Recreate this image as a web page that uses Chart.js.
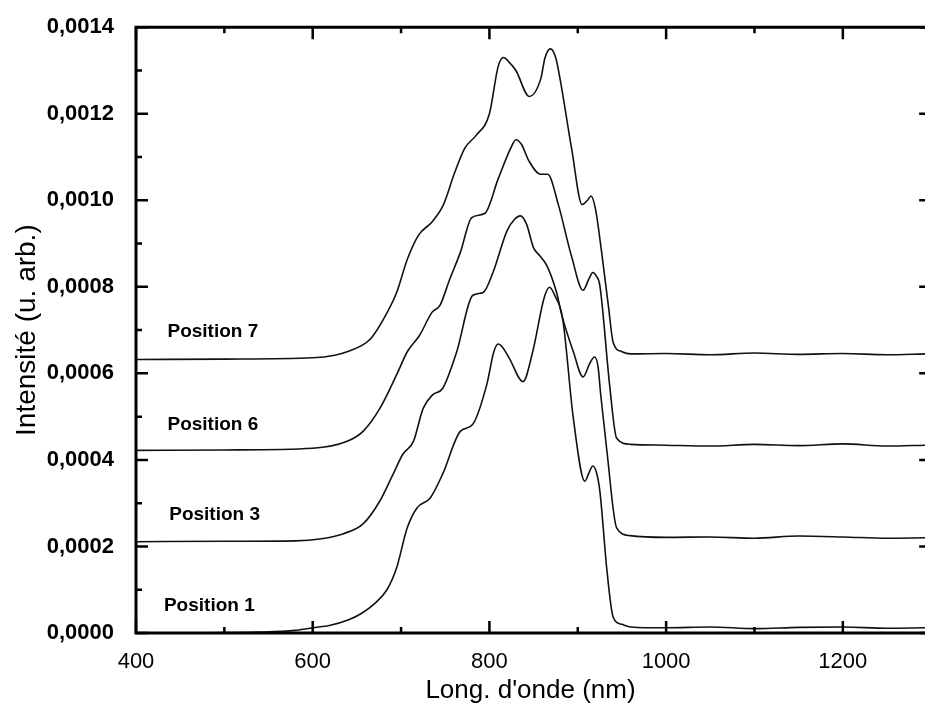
<!DOCTYPE html>
<html>
<head>
<meta charset="utf-8">
<script src="https://cdn.jsdelivr.net/npm/chart.js@4.4.1/dist/chart.umd.min.js"></script>
<style>
  html, body { margin: 0; padding: 0; background: #fff; }
  #wrap { width: 925px; height: 714px; }
</style>
</head>
<body>
<div id="wrap"><canvas id="specChart" width="925" height="714"></canvas></div>
<script>
// wavelength (nm) / intensity points
let p1X = [400, 450, 500, 540, 580, 600, 620, 640, 655, 670, 684, 695, 707, 718, 733, 747, 767, 781, 797, 805, 810, 815, 823, 838, 849, 862, 868, 874, 883, 895, 908, 913, 917, 921, 925, 933, 940, 950, 960, 1000, 1050, 1100, 1150, 1200, 1250, 1293]
let p1Y = [0, 0, 0.000001, 0.000002, 0.000006, 0.000012, 0.000018, 0.00003, 0.000045, 0.000068, 0.0001, 0.000151, 0.000243, 0.000289, 0.000312, 0.000367, 0.000466, 0.000482, 0.000574, 0.00065, 0.000668, 0.00066, 0.000633, 0.000581, 0.00065, 0.000775, 0.000799, 0.00078, 0.000725, 0.000496, 0.000351, 0.000372, 0.000386, 0.000372, 0.000328, 0.000145, 0.000037, 0.00002, 0.000014, 0.000012, 0.000014, 0.00001, 0.000013, 0.000014, 0.000011, 0.000012]

let p3X = [400, 500, 580, 610, 634, 657, 676, 691, 702, 714, 725, 736, 747, 763, 781, 793, 804, 820, 828, 835, 842, 850, 857, 865, 876, 882, 895, 906, 914, 919, 923, 926, 933, 944, 959, 1000, 1050, 1100, 1150, 1200, 1250, 1293]
let p3Y = [0.000211, 0.000212, 0.000213, 0.000218, 0.000229, 0.000252, 0.000305, 0.000367, 0.000413, 0.000443, 0.000519, 0.000551, 0.000565, 0.00065, 0.00078, 0.000787, 0.000833, 0.00093, 0.000955, 0.000964, 0.000945, 0.00089, 0.000872, 0.000849, 0.000787, 0.000734, 0.00065, 0.000592, 0.000625, 0.000638, 0.000615, 0.00055, 0.00042, 0.000243, 0.000225, 0.000221, 0.000222, 0.000219, 0.000224, 0.000222, 0.000219, 0.00022]

let p6X = [400, 500, 600, 639, 657, 676, 695, 707, 721, 735, 744, 755, 767, 780, 795, 810, 824, 830, 836, 845, 858, 866, 878, 893, 906, 913, 917, 921, 925, 936, 944, 960, 1000, 1050, 1100, 1150, 1200, 1250, 1293]
let p6Y = [0.000422, 0.000423, 0.000427, 0.000443, 0.000466, 0.000519, 0.000597, 0.00065, 0.000688, 0.000741, 0.000757, 0.000817, 0.000879, 0.00096, 0.00097, 0.00105, 0.00112, 0.00114, 0.00113, 0.00109, 0.00106, 0.00106, 0.00099, 0.00087, 0.000792, 0.00082, 0.000833, 0.000825, 0.000803, 0.000574, 0.00045, 0.000436, 0.000434, 0.000432, 0.000436, 0.000433, 0.000437, 0.000432, 0.000434]

let p7X = [400, 500, 600, 625, 639, 665, 680, 695, 707, 720, 735, 748, 760, 772, 785, 800, 810, 816, 822, 830, 845, 858, 863, 869, 875, 880, 893, 905, 911, 915, 920, 927, 935, 940, 950, 960, 1000, 1050, 1100, 1150, 1200, 1250, 1293]
let p7Y = [0.000632, 0.000633, 0.000636, 0.000642, 0.00065, 0.000679, 0.000725, 0.000787, 0.000863, 0.00092, 0.00095, 0.00099, 0.00106, 0.00112, 0.00115, 0.0012, 0.00131, 0.00133, 0.00132, 0.0013, 0.00124, 0.00128, 0.00133, 0.00135, 0.00133, 0.00128, 0.00112, 0.00099, 0.001, 0.00101, 0.00098, 0.00088, 0.00075, 0.000672, 0.00065, 0.000645, 0.000646, 0.000643, 0.000647, 0.000644, 0.000646, 0.000643, 0.000645]

let seriesNames = ['Position 1', 'Position 3', 'Position 6', 'Position 7']
let labelX = [483, 489, 487, 487]
let labelY = [0.000062, 0.000274, 0.000481, 0.000697]

let xMajor = [400, 600, 800, 1000, 1200]
let xMinor = [500, 700, 900, 1100, 1300]
let yMajor = [0, 0.0002, 0.0004, 0.0006, 0.0008, 0.001, 0.0012, 0.0014]
let yMinor = [0.0001, 0.0003, 0.0005, 0.0007, 0.0009, 0.0011, 0.0013]
let yTickLabels = ['0,0000', '0,0002', '0,0004', '0,0006', '0,0008', '0,0010', '0,0012', '0,0014']

let fontFam = '"Liberation Sans", Arial, sans-serif'

function toPoints(xs, ys) {
    return xs.map((v, i) => ({ x: v, y: ys[i] }))
}
function makeSet(name, xs, ys) {
    return {
        label: name,
        data: toPoints(xs, ys),
        borderColor: '#111',
        borderWidth: 1.6,
        pointRadius: 0,
        fill: false,
        cubicInterpolationMode: 'monotone',
        clip: 4
    }
}

// axis frame + inward ticks on all four sides
const frame = {
    id: 'frame',
    afterDatasetsDraw(chart) {
        const { ctx, chartArea: a, scales: { x, y } } = chart
        const rightX = x.getPixelForValue(1300)
        ctx.save()
        ctx.strokeStyle = '#000'
        ctx.lineWidth = 3
        ctx.beginPath()
        ctx.moveTo(a.left, a.top); ctx.lineTo(a.right + 5, a.top)
        ctx.moveTo(a.left, a.top - 1.5); ctx.lineTo(a.left, a.bottom)
        ctx.moveTo(a.left - 1.5, a.bottom); ctx.lineTo(a.right + 5, a.bottom)
        ctx.stroke()
        ctx.lineWidth = 2.5
        ctx.beginPath()
        xMajor.concat(xMinor).forEach(v => {
            let len = xMajor.includes(v) ? 12 : 6
            let px = x.getPixelForValue(v)
            ctx.moveTo(px, a.bottom); ctx.lineTo(px, a.bottom - len)
            ctx.moveTo(px, a.top); ctx.lineTo(px, a.top + len)
        })
        yMajor.concat(yMinor).forEach(v => {
            let len = yMajor.includes(v) ? 12 : 6
            let py = y.getPixelForValue(v)
            ctx.moveTo(a.left, py); ctx.lineTo(a.left + len, py)
            ctx.moveTo(rightX, py); ctx.lineTo(rightX - len, py)
        })
        ctx.stroke()
        // series names
        ctx.fillStyle = '#000'
        ctx.font = 'bold 19px ' + fontFam
        ctx.textAlign = 'center'
        ctx.textBaseline = 'middle'
        seriesNames.forEach((n, i) => {
            ctx.fillText(n, x.getPixelForValue(labelX[i]), y.getPixelForValue(labelY[i]))
        })
        ctx.restore()
    }
}

let specCtx = document.getElementById('specChart').getContext('2d')
let specChart = new Chart(specCtx, {
    type: 'line',
    data: {
        datasets: [
            makeSet(seriesNames[0], p1X, p1Y),
            makeSet(seriesNames[1], p3X, p3Y),
            makeSet(seriesNames[2], p6X, p6Y),
            makeSet(seriesNames[3], p7X, p7Y)
        ]
    },
    options: {
        responsive: false,
        animation: false,
        layout: { padding: { top: 23, right: 0, left: 0, bottom: 0 } },
        plugins: {
            legend: { display: false },
            tooltip: { enabled: false }
        },
        scales: {
            x: {
                type: 'linear',
                min: 400,
                max: 1293,
                grid: { display: false },
                border: { display: false },
                afterFit: s => { s.height = 81 },
                afterBuildTicks: s => { s.ticks = xMajor.map(v => ({ value: v })) },
                ticks: {
                    maxRotation: 0,
                    padding: 8,
                    color: '#000',
                    font: { family: fontFam, size: 22 },
                    callback: v => String(v)
                },
                title: {
                    display: true,
                    text: "Long. d'onde (nm)",
                    color: '#000',
                    font: { family: fontFam, size: 26 },
                    padding: { top: 0, bottom: 8 }
                }
            },
            y: {
                type: 'linear',
                min: 0,
                max: 0.0014,
                grid: { display: false },
                border: { display: false },
                afterFit: s => { s.width = 136 },
                afterBuildTicks: s => { s.ticks = yMajor.map(v => ({ value: v })) },
                ticks: {
                    padding: 14,
                    color: '#000',
                    font: { family: fontFam, size: 22, weight: 'bold' },
                    callback: (v, i) => yTickLabels[i]
                },
                title: {
                    display: true,
                    text: 'Intensité (u. arb.)',
                    color: '#000',
                    font: { family: fontFam, size: 28 },
                    padding: 10
                }
            }
        }
    },
    plugins: [frame]
});
</script>
</body>
</html>
